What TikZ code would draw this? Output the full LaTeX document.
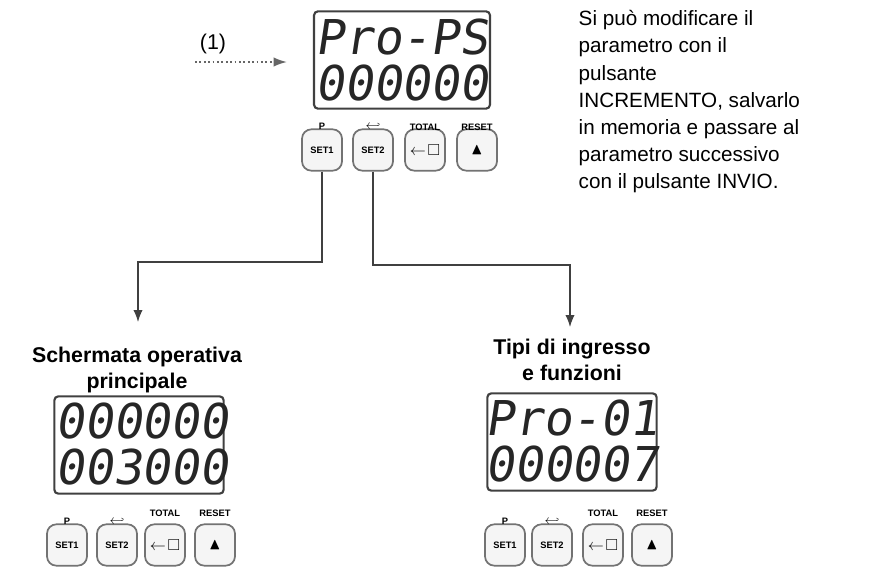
\documentclass[tikz,border=0pt]{standalone}
\usepackage{amssymb}
\usepackage{fontspec}
\setmainfont{Liberation Sans}
\newfontfamily\segfont{DejaVu Sans Mono}[FakeSlant=0.15]
\usetikzlibrary{arrows.meta}
\tikzset{
 lcdbox/.style={draw=black!75, line width=1.6pt, rounded corners=3pt, minimum width=132pt, minimum height=73pt},
 digits/.style={font=\segfont\fontsize{36}{36}\selectfont, text=black!85},
 btn/.style={draw=black!55, line width=1.3pt, rounded corners=7pt, minimum width=30pt, minimum height=31pt, fill=black!4, font=\bfseries\fontsize{7}{7}\selectfont},
 btnlab/.style={font=\bfseries\fontsize{7}{7}\selectfont},
 wire/.style={draw=black!75, line width=0.9pt},
 arr/.style={-{Latex[length=9pt,width=7pt]}},
 title/.style={font=\bfseries\fontsize{16}{19}\selectfont, align=center},
}
\begin{document}
\begin{tikzpicture}[x=0.75pt,y=-0.75pt]
\useasboundingbox (0,0) rectangle (878,568);
% top panel
\node[lcdbox] (lcdT) at (402,60) {};
\node[digits] (t1) at (402,37) {Pro-PS};
\node[digits] (t2) at (402,83) {000000};
\node[btn] (s1T) at (322,150) {SET1};
\node[btn] (s2T) at (373,150) {SET2};
\node[btn] (toT) at (425,150) {\fontsize{12}{12}\selectfont$\leftarrow\!\Box$};
\node[btn] (reT) at (477,150) {\fontsize{12}{12}\selectfont$\blacktriangle$};
\node[btnlab] (pT) at (322,126) {P};
\node[btnlab] (eT) at (373,126) {\fontsize{10}{10}\selectfont$\hookleftarrow$};
\node[btnlab] at (425,127) {TOTAL};
\node[btnlab] at (477,127) {RESET};
% dotted input
\coordinate (inA) at (195,62);
\coordinate (inB) at (287,62);
\node[font=\fontsize{16}{16}\selectfont] (one) at (213,44) {(1)};
\draw[draw=black!60, dotted, line width=1.3pt, -{Latex[length=10pt,width=7pt]}] (inA) -- (inB);
% description
\node[anchor=north west, align=left, font=\fontsize{15.5}{20.3}\selectfont] (desc) at (574,6)
 {Si può modificare il\\parametro con il\\pulsante\\INCREMENTO, salvarlo\\in memoria e passare al\\parametro successivo\\con il pulsante INVIO.};
% connectors
\node[title] (tL) at (137,370) {Schermata operativa\\principale};
\node[title] (tR) at (572,360) {Tipi di ingresso\\e funzioni};
\draw[wire,arr] (s1T.south) -- (322,262) -- (138,262) -- (138,322);
\draw[wire,arr] (s2T.south) -- (373,265) -- (570,265) -- (570,327);
% bottom left panel
\node[lcdbox, minimum width=127pt] (lcdL) at (139,445) {};
\node[digits] (l1) at (142,421) {000000};
\node[digits] (l2) at (142,467) {003000};
\node[btn] (s1L) at (67,545) {SET1};
\node[btn] (s2L) at (117,545) {SET2};
\node[btn] (toL) at (165,545) {\fontsize{12}{12}\selectfont$\leftarrow\!\Box$};
\node[btn] (reL) at (215,545) {\fontsize{12}{12}\selectfont$\blacktriangle$};
\node[btnlab] at (67,521) {P};
\node[btnlab] at (117,521) {\fontsize{10}{10}\selectfont$\hookleftarrow$};
\node[btnlab] at (165,513) {TOTAL};
\node[btnlab] at (215,513) {RESET};
% bottom right panel
\node[lcdbox, minimum width=127pt] (lcdR) at (572,442) {};
\node[digits] (r1) at (572,418) {Pro-01};
\node[digits] (r2) at (572,464) {000007};
\node[btn] (s1R) at (505,545) {SET1};
\node[btn] (s2R) at (552,545) {SET2};
\node[btn] (toR) at (603,545) {\fontsize{12}{12}\selectfont$\leftarrow\!\Box$};
\node[btn] (reR) at (652,545) {\fontsize{12}{12}\selectfont$\blacktriangle$};
\node[btnlab] at (505,521) {P};
\node[btnlab] at (552,521) {\fontsize{10}{10}\selectfont$\hookleftarrow$};
\node[btnlab] at (603,513) {TOTAL};
\node[btnlab] at (652,513) {RESET};
\end{tikzpicture}
\end{document}
